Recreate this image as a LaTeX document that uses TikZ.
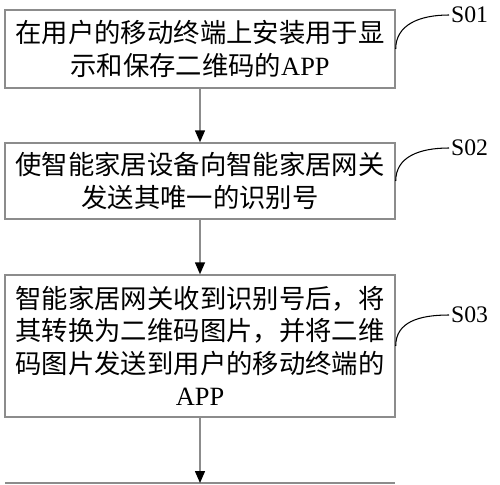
\documentclass[tikz,border=0pt]{standalone}
\usepackage{fontspec}
\setmainfont{Liberation Serif}
\newfontfamily\cjk{Noto Sans CJK SC}
\usetikzlibrary{arrows.meta,positioning}
\definecolor{edge}{HTML}{8C8C8C}
\definecolor{tip}{HTML}{000000}

\tikzset{
  stepbox/.style={draw=edge,line width=0.85pt,minimum width=7.8cm,align=center,
    inner sep=0pt,font=\cjk\fontsize{15}{18.5}\selectfont},
  flow/.style={draw=edge,line width=0.85pt,-{Triangle[length=0.24cm,width=0.2cm,color=tip]}},
  tag/.style={font=\fontsize{13.5}{15}\selectfont,inner sep=1pt,anchor=west},
  lead/.style={draw=black,line width=0.6pt}
}

\begin{document}
\begin{tikzpicture}[x=0.02cm,y=0.02cm]
  \useasboundingbox (0,0) rectangle (500,484);

  % Steps
  \node[stepbox,minimum height=1.56cm] (b1) at (200,435)
    {在用户的移动终端上安装用于显\\示和保存二维码的\textrm{APP}};
  \node[stepbox,minimum height=1.52cm] (b2) at (200,303)
    {使智能家居设备向智能家居网关\\发送其唯一的识别号};
  \node[stepbox,minimum height=2.84cm] (b3) at (200,138)
    {智能家居网关收到识别号后，将\\其转换为二维码图片，并将二维\\码图片发送到用户的移动终端的\\\textrm{APP}};

  % Next step (cut off)
  \coordinate (b4) at (200,1);
  \coordinate (b4w) at (5,1);
  \coordinate (b4e) at (395,1);
  \draw[edge,line width=0.85pt] (b4w) -- (b4e);

  % Arrows
  \draw[flow] (b1) -- (b2);
  \draw[flow] (b2) -- (b3);
  \draw[flow] (b3) -- (b4);

  % Step labels
  \node[tag] (s1) at (449,469) {S01};
  \node[tag] (s2) at (449,336) {S02};
  \node[tag] (s3) at (449,169) {S03};
  \draw[lead] (b1.east) .. controls +(0,24) and +(-30,0) .. (s1.west);
  \draw[lead] (b2.east) .. controls +(0,24) and +(-30,0) .. (s2.west);
  \draw[lead] (b3.east) .. controls +(0,24) and +(-30,0) .. (s3.west);
\end{tikzpicture}
\end{document}
